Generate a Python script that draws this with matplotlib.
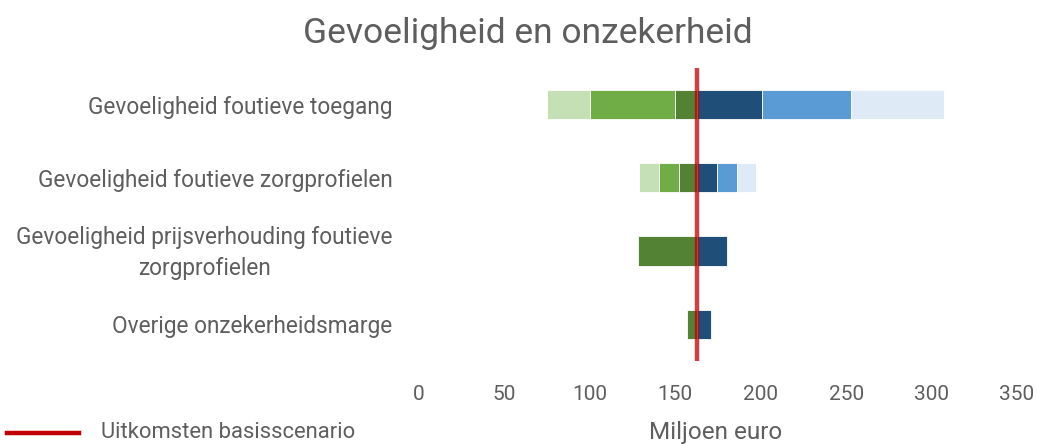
import numpy as np
import matplotlib
matplotlib.use("Agg")
import matplotlib.pyplot as plt
from matplotlib.lines import Line2D
from matplotlib.transforms import offset_copy

plt.rcParams['font.family'] = ['Roboto', 'DejaVu Sans']

categories = ["Gevoeligheid foutieve toegang",
              "Gevoeligheid foutieve zorgprofielen",
              "Gevoeligheid prijsverhouding foutieve\nzorgprofielen",
              "Overige onzekerheidsmarge"]
basis = 163

# lower bounds (green), from outer to inner; nan = not present
low_light = [75, 129, np.nan, np.nan]
low_mid = [100, 140.5, np.nan, np.nan]
low_dark = [150, 152, 128, 157]
# upper bounds (blue), from inner to outer
high_dark = [201, 174.5, 180.5, 171]
high_mid = [253, 186, np.nan, np.nan]
high_light = [307, 197.5, np.nan, np.nan]

greens = ["#C5E0B4", "#70AD47", "#548235"]
blues = ["#1F4E79", "#5B9BD5", "#DEEBF7"]
grey = "#5e5e5e"
red = "#C00000"

fig = plt.figure(figsize=(10.37, 4.44), dpi=100)
ax = fig.add_axes([0.404, 0.187, 0.5767, 0.66])

y = np.arange(len(categories))
h = 0.4


def draw(starts, ends, color):
    for yi, s, e in zip(y, starts, ends):
        if np.isnan(s) or np.isnan(e):
            continue
        ax.barh(yi, e - s, left=s, height=h, color=color,
                edgecolor="white", linewidth=0.6)


# green side: each segment runs to the next inner bound
nxt_mid = [m if not np.isnan(m) else d for m, d in zip(low_mid, low_dark)]
draw(low_light, nxt_mid, greens[0])
draw(low_mid, low_dark, greens[1])
draw(low_dark, [basis] * 4, greens[2])
# blue side
draw([basis] * 4, high_dark, blues[0])
draw(high_dark, high_mid, blues[1])
draw(high_mid, high_light, blues[2])

ax.axvline(basis, color=red, alpha=0.75, linewidth=3.2, zorder=5)

ax.set_xlim(0, 350)
ax.set_ylim(len(categories) - 0.5, -0.5)
ax.set_xticks(np.arange(0, 351, 50))
ax.set_yticks(y)
ax.set_yticklabels(categories, fontsize=16.3, color=grey)
ax.tick_params(axis="x", length=0, pad=17, labelsize=15, labelcolor=grey)
ax.tick_params(axis="y", length=0, pad=19)
for s in ax.spines.values():
    s.set_visible(False)

fig.text(0.6905, 0.027, "Miljoen euro", fontsize=17.5, color=grey,
         ha="center", va="center")
fig.suptitle("Gevoeligheid en onzekerheid", fontsize=25.5, color=grey,
             x=0.509, y=0.962)

# legend
fig.add_artist(Line2D([0.007, 0.076], [0.025, 0.025], color=red,
                      linewidth=3.2, transform=fig.transFigure))
fig.text(0.097, 0.027, "Uitkomsten basisscenario", fontsize=15.8, color=grey,
         ha="left", va="center")

fig.canvas.draw()
for lab in ax.get_yticklabels():
    lab.set_horizontalalignment("right")
    lab.set_multialignment("center")
    lab.set_linespacing(1.45)
    if "\n" in lab.get_text():
        lab.set_transform(offset_copy(lab.get_transform(), fig=fig,
                                      x=0, y=5, units="dots"))

fig.savefig("out.png", dpi=100)
